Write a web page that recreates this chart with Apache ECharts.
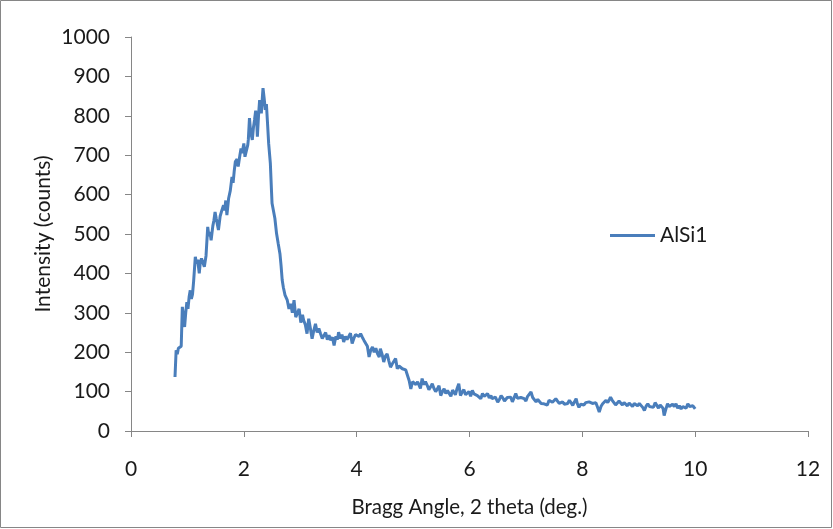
<!DOCTYPE html>
<html>
<head>
<meta charset="utf-8">
<script src="https://cdn.jsdelivr.net/npm/echarts@6/dist/echarts.min.js"></script>
<style>
html,body{margin:0;padding:0;background:#fff;}
#chart{width:833px;height:529px;}
</style>
</head>
<body>
<div id="chart"></div>
<script>
const seriesName = 'AlSi1';
const xTitle = 'Bragg Angle, 2 theta (deg.)';
const yTitle = 'Intensity (counts)';

const angle = [
0.78,0.80,0.82,0.84,0.87,0.89,0.91,0.93,0.95,0.97,0.99,1.01,1.03,1.05,1.07,1.09,1.11,1.14,1.16,1.18,
1.21,1.23,1.25,1.28,1.30,1.33,1.36,1.38,1.40,1.42,1.45,1.47,1.49,1.51,1.53,1.55,1.58,1.61,1.64,1.66,
1.68,1.70,1.73,1.76,1.79,1.81,1.83,1.85,1.88,1.90,1.93,1.95,1.97,2.00,2.02,2.05,2.07,2.08,2.10,2.12,
2.15,2.17,2.19,2.21,2.23,2.24,2.26,2.28,2.30,2.31,2.33,2.34,2.36,2.38,2.40,2.42,2.44,2.47,2.49,2.50,
2.52,2.55,2.58,2.61,2.64,2.66,2.68,2.70,2.73,2.75,2.77,2.80,2.83,2.86,2.89,2.92,2.95,2.98,3.01,3.04,
3.06,3.09,3.12,3.15,3.18,3.21,3.24,3.27,3.30,3.33,3.36,3.39,3.42,3.45,3.48,3.51,3.54,3.57,3.60,3.63,
3.66,3.68,3.71,3.74,3.77,3.80,3.83,3.86,3.89,3.92,3.95,3.98,4.01,4.04,4.07,4.10,4.13,4.16,4.19,4.22,
4.25,4.28,4.31,4.34,4.37,4.40,4.42,4.45,4.48,4.51,4.54,4.57,4.60,4.63,4.66,4.69,4.72,4.75,4.78,4.81,
4.84,4.87,4.90,4.93,4.96,4.99,5.02,5.05,5.08,5.10,5.13,5.16,5.19,5.22,5.25,5.28,5.31,5.34,5.37,5.40,
5.43,5.46,5.49,5.52,5.55,5.58,5.61,5.64,5.67,5.70,5.72,5.75,5.78,5.81,5.84,5.87,5.90,5.93,5.96,5.99,
6.02,6.05,6.08,6.11,6.14,6.17,6.20,6.23,6.26,6.29,6.32,6.35,6.38,6.40,6.43,6.46,6.50,6.53,6.56,6.59,
6.62,6.64,6.67,6.70,6.73,6.76,6.79,6.82,6.85,6.88,6.91,6.94,6.97,7.00,7.03,7.06,7.09,7.12,7.15,7.18,
7.21,7.24,7.27,7.30,7.32,7.35,7.38,7.41,7.44,7.47,7.50,7.53,7.56,7.59,7.62,7.65,7.68,7.71,7.74,7.77,
7.80,7.83,7.86,7.89,7.91,7.94,7.97,8.00,8.03,8.06,8.09,8.12,8.15,8.18,8.21,8.24,8.27,8.30,8.33,8.36,
8.39,8.42,8.45,8.48,8.50,8.53,8.56,8.59,8.62,8.65,8.68,8.71,8.74,8.77,8.80,8.83,8.86,8.89,8.92,8.95,
8.98,9.01,9.04,9.07,9.10,9.13,9.16,9.19,9.22,9.26,9.29,9.32,9.35,9.38,9.40,9.43,9.45,9.48,9.51,9.54,
9.57,9.60,9.63,9.66,9.69,9.72,9.75,9.78,9.81,9.84,9.87,9.90,9.93,9.96,10.00
];

const intensity = [
137,205,195,210,208,215,315,290,264,300,327,310,340,357,335,347,380,442,425,435,
400,430,438,425,417,445,518,495,505,484,520,535,556,540,525,510,545,560,573,560,
585,548,590,610,645,630,660,684,690,671,700,717,705,730,696,693,726,740,794,760,
739,770,790,813,780,747,800,840,820,806,850,870,845,815,830,781,730,679,610,578,
575,540,501,475,450,420,383,365,345,350,332,310,323,300,332,289,294,310,275,295,
281,270,247,285,260,234,255,272,250,260,247,235,238,250,232,243,230,238,217,240,
232,251,235,245,226,240,232,234,248,222,235,245,247,240,247,238,230,226,215,188,
205,213,200,210,196,188,209,195,175,190,196,178,162,170,175,184,158,165,160,158,
163,155,154,128,107,125,128,118,125,120,108,133,118,125,116,105,112,120,108,100,
107,115,90,100,107,95,103,95,88,104,99,92,108,120,90,98,105,92,95,100,
88,103,94,99,90,86,82,95,88,92,95,84,90,82,78,86,73,80,90,84,
76,78,85,80,86,74,84,95,83,78,85,80,82,76,88,83,99,85,82,74,
80,78,70,74,69,72,66,78,74,73,70,82,76,70,69,74,68,73,70,78,
72,65,74,82,70,60,68,73,66,72,69,74,78,70,65,72,60,48,62,69,
74,78,72,80,86,78,73,66,69,76,73,66,72,69,64,71,69,62,70,69,
64,70,65,60,52,63,69,62,66,60,72,69,58,66,65,58,39,55,69,62,
60,68,62,69,58,64,56,62,65,58,69,62,60,64,56
];

const xTicks = [0, 2, 4, 6, 8, 10, 12];
const yTicks = [0, 100, 200, 300, 400, 500, 600, 700, 800, 900, 1000];

const FONT = 'Lato';
const AXIS_COLOR = '#868686';
const LINE_COLOR = '#4a7ebb';
const TXT = '#1a1a1a';

const chart = echarts.init(document.getElementById('chart'), null, {renderer: 'canvas'});
const pts = angle.map((a, i) => [a, intensity[i]]);

chart.setOption({
  animation: false,
  backgroundColor: '#ffffff',
  textStyle: {fontFamily: FONT},
  grid: {left: 131, right: 25, top: 37, bottom: 98, containLabel: false},
  legend: {
    data: [seriesName],
    left: 605, top: 220,
    itemWidth: 45, itemHeight: 14, itemGap: 5,
    textStyle: {fontFamily: FONT, fontSize: 21, color: TXT},
    icon: 'path://M0,0L45,0L45,3L0,3Z'
  },
  xAxis: {
    type: 'value',
    min: xTicks[0], max: xTicks[xTicks.length - 1], interval: 2,
    name: xTitle, nameLocation: 'middle', nameGap: 66,
    nameTextStyle: {fontFamily: FONT, fontSize: 20.5, color: TXT},
    axisLine: {show: true, lineStyle: {color: AXIS_COLOR, width: 1}},
    axisTick: {show: true, inside: false, length: 6, lineStyle: {color: AXIS_COLOR}},
    axisLabel: {fontFamily: FONT, fontSize: 21, color: TXT, margin: 28, formatter: v => String(v)},
    splitLine: {show: false}
  },
  yAxis: {
    type: 'value',
    min: yTicks[0], max: yTicks[yTicks.length - 1], interval: 100,
    name: yTitle, nameLocation: 'middle', nameGap: 77, nameRotate: 90,
    nameMoveOverlap: false,
    nameTextStyle: {fontFamily: FONT, fontSize: 21, color: TXT},
    axisLine: {show: true, lineStyle: {color: AXIS_COLOR, width: 1}},
    axisTick: {show: true, inside: false, length: 6, lineStyle: {color: AXIS_COLOR}},
    axisLabel: {fontFamily: FONT, fontSize: 21, color: TXT, margin: 21, formatter: v => String(v)},
    splitLine: {show: false}
  },
  series: [{
    name: seriesName,
    type: 'line',
    data: pts,
    symbol: 'none',
    showSymbol: false,
    smooth: false,
    lineStyle: {color: LINE_COLOR, width: 3},
    itemStyle: {color: LINE_COLOR}
  }],
  graphic: [{
    type: 'rect',
    shape: {x: 0.5, y: 0.5, width: 831, height: 527},
    style: {fill: 'none', stroke: AXIS_COLOR, lineWidth: 1},
    silent: true
  }]
});
</script>
</body>
</html>
